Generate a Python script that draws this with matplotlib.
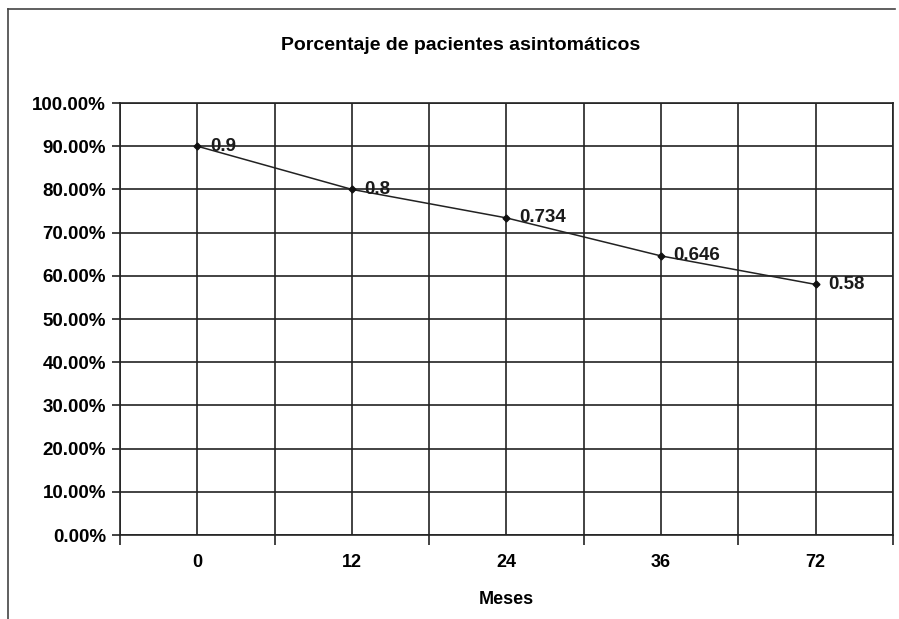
import numpy as np
import matplotlib.pyplot as plt
from matplotlib.ticker import FixedLocator, PercentFormatter

# data
meses = ['0', '12', '24', '36', '72']
asintomaticos = [0.9, 0.8, 0.734, 0.646, 0.58]
etiquetas = ['0.9', '0.8', '0.734', '0.646', '0.58']

plt.rcParams['font.family'] = ['Liberation Sans', 'DejaVu Sans']
plt.rcParams['font.weight'] = 'bold'

fig = plt.figure(figsize=(8.99, 6.19), dpi=100)
ax = fig.add_axes([0.1335, 0.1357, 0.8598, 0.6979])

x = np.arange(len(meses))
ax.plot(x, asintomaticos, color='#222222', linewidth=1.1, marker='D',
        markersize=3.5, markerfacecolor='#111111', markeredgecolor='#111111', zorder=3)

for xi, yi, txt in zip(x, asintomaticos, etiquetas):
    ax.annotate(txt, (xi, yi), xytext=(9, 0), textcoords='offset points',
                va='center', ha='left', fontsize=13.5, fontweight='bold', color='#1a1a1a')

ax.set_xlim(-0.5, len(meses) - 0.5)
ax.set_ylim(0, 1.0)

# category labels without ticks, boundary ticks as minor ones
ax.set_xticks(x)
ax.set_xticklabels(meses, fontsize=13, fontweight='bold')
ax.xaxis.set_minor_locator(FixedLocator(np.arange(-0.5, len(meses), 0.5)))
ax.tick_params(axis='x', which='major', length=0, pad=14)
ax.tick_params(axis='x', which='minor', length=7, width=1.2, direction='out', color='#222222')

ax.set_yticks(np.arange(0, 1.01, 0.1))
ax.yaxis.set_major_formatter(PercentFormatter(1.0, decimals=2))
ax.tick_params(axis='y', which='major', length=6, width=1.2, labelsize=13.5, pad=4, color='#222222')

ax.grid(True, which='both', axis='x', color='#222222', linewidth=1.2)
ax.grid(True, which='major', axis='y', color='#222222', linewidth=1.2)
ax.set_axisbelow(True)

for s in ax.spines.values():
    s.set_color('#222222')
    s.set_linewidth(1.2)

ax.set_xlabel('Meses', fontsize=13, fontweight='bold', labelpad=14)
fig.text(0.512, 0.927, 'Porcentaje de pacientes asintomáticos', ha='center', va='center',
         fontsize=14, fontweight='bold')

# chart frame of the scan (top and left edges)
fig.add_artist(plt.Line2D([0.009, 0.995], [0.986, 0.986], color='#444444', linewidth=1.2))
fig.add_artist(plt.Line2D([0.009, 0.009], [0.0, 0.986], color='#444444', linewidth=1.2))

fig.savefig('out.png', dpi=100)
